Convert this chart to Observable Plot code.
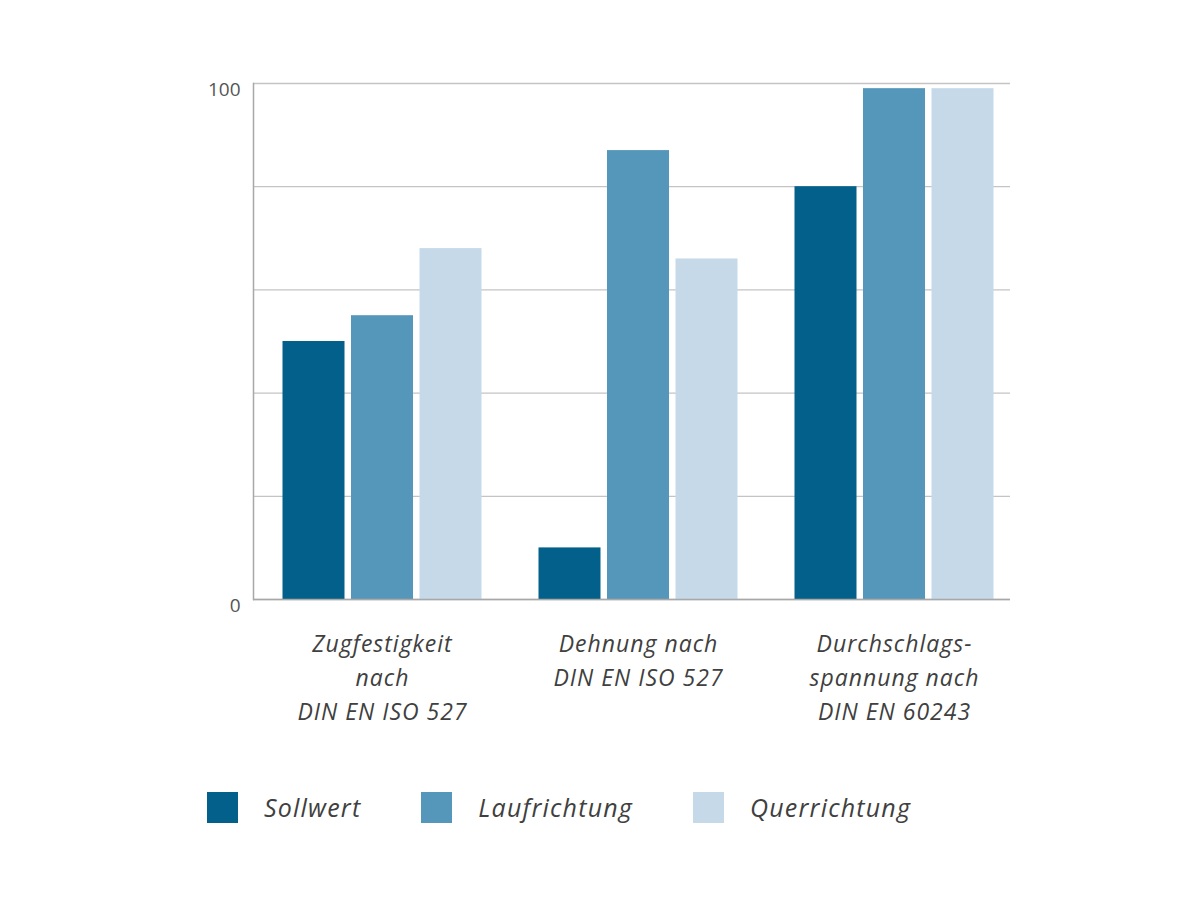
<!DOCTYPE html>
<html>
<head>
<meta charset="utf-8">
<script src="https://cdn.jsdelivr.net/npm/d3@7"></script>
<script src="https://cdn.jsdelivr.net/npm/@observablehq/plot@0.6"></script>
<style>
  body { margin: 0; background: #fff; font-family: "Open Sans", sans-serif; }
  #wrap { position: relative; width: 1200px; height: 900px; }
  #chart { position: absolute; left: 0; top: 0; }
  #legend { position: absolute; left: 207px; top: 790px; display: flex; align-items: center; gap: 60px; }
  .item { display: flex; align-items: center; gap: 26px; }
  .sw { width: 31px; height: 31px; display: inline-block; }
  .lab { font-size: 25px; font-style: italic; color: #404040; letter-spacing: 1.2px; }
  g[aria-label="x-axis tick label"] text { font-style: italic; letter-spacing: 1px; }
</style>
</head>
<body>
<div id="wrap">
  <div id="chart"></div>
  <div id="legend"></div>
</div>
<script>
const groups = [
  "Zugfestigkeit\nnach\nDIN EN ISO 527",
  "Dehnung nach\nDIN EN ISO 527",
  "Durchschlags-\nspannung nach\nDIN EN 60243"
];
const series = ["Sollwert", "Laufrichtung", "Querrichtung"];
const sollwert = [50, 10, 80];
const laufrichtung = [55, 87, 99];
const querrichtung = [68, 66, 99];
const yGrid = [0, 20, 40, 60, 80, 100];
const yLabels = [0, 100];
const colors = ["#02608a", "#5597ba", "#c6d9e8"];

const seriesValues = [sollwert, laufrichtung, querrichtung];
const rows = series.flatMap((s, si) =>
  groups.map((g, gi) => ({ group: g, series: s, value: seriesValues[si][gi] }))
);

// layout (pixels)
const band = 256, barW = 62, barStep = 68.5, firstOffset = 28.5;

const barMarks = series.map((s, si) => {
  const left = firstOffset + barStep * si;
  return Plot.barY(rows.filter(d => d.series === s), {
    x: "group", y: "value", fill: "series",
    insetLeft: left, insetRight: band - barW - left
  });
});

const chart = Plot.plot({
  width: 1200,
  height: 740,
  marginLeft: 253,
  marginRight: 190,
  marginTop: 83,
  marginBottom: 141,
  style: { fontFamily: "'Open Sans', sans-serif", background: "#fff" },
  x: { type: "band", domain: groups, range: [253.5, 253.5 + 3 * band], padding: 0 },
  y: { domain: [0, 100] },
  color: { domain: series, range: colors },
  marks: [
    Plot.ruleY(yGrid, { stroke: "#c4c4c4", strokeWidth: 1.3 }),
    ...barMarks,
    Plot.ruleY([0], { stroke: "#a8a8a8", strokeWidth: 1.5 }),
    Plot.frame({ anchor: "left", stroke: "#a8a8a8", strokeWidth: 1.5 }),
    Plot.axisY(yLabels, { tickSize: 0, tickPadding: 13, fontSize: 19, fill: "#555", dy: 6, label: null }),
    Plot.axisX({ tickSize: 0, tickPadding: 29, fontSize: 23, fill: "#404040", lineHeight: 1.46, label: null, fontStyle: "italic" })
  ]
});
document.getElementById("chart").appendChild(chart);

const legend = document.getElementById("legend");
series.forEach((s, i) => {
  const item = document.createElement("div");
  item.className = "item";
  const sw = document.createElement("span");
  sw.className = "sw";
  sw.style.background = colors[i];
  const lab = document.createElement("span");
  lab.className = "lab";
  lab.textContent = s;
  item.appendChild(sw);
  item.appendChild(lab);
  legend.appendChild(item);
});
</script>
</body>
</html>
